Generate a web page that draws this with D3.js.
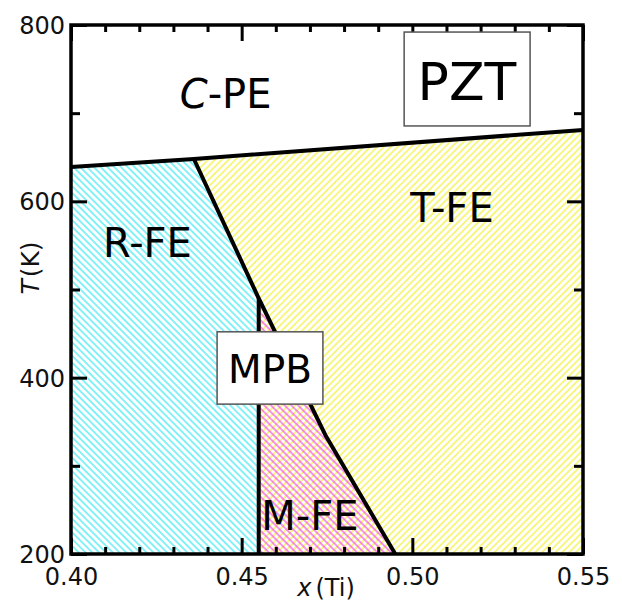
<!DOCTYPE html>
<html><head><meta charset="utf-8">
<script src="https://cdn.jsdelivr.net/npm/d3@7"></script>
<style>body{margin:0;background:#fff}svg{display:block}</style>
</head><body><svg id="c" width="622" height="603"></svg>
<script>
// ---- data ----
const xDomain = [0.40, 0.55];
const yDomain = [200, 800];
const xMajorTicks = [0.40, 0.45, 0.50, 0.55];
const xTickLabels = ["0.40", "0.45", "0.50", "0.55"];
const xMinorTicks = [0.41, 0.42, 0.43, 0.44, 0.46, 0.47, 0.48, 0.49, 0.51, 0.52, 0.53, 0.54];
const yMajorTicks = [200, 400, 600, 800];
const yTickLabels = ["200", "400", "600", "800"];
const yMinorTicks = [300, 500, 700];
// phase boundaries [x(Ti), T(K)]
const cubicBoundary = [[0.40, 639], [0.436, 648], [0.55, 681]];
const mpbBoundary = [[0.436, 648], [0.455, 490], [0.4745, 335], [0.495, 200]];
const monoclinicEdge = [[0.455, 490], [0.455, 200]];
// phase regions
const rRegion = [[0.40, 200], [0.40, 639], [0.436, 648], [0.455, 490], [0.455, 200]];
const tRegion = [[0.455, 490], [0.436, 648], [0.55, 681], [0.55, 200], [0.455, 200]];
const mRegion = [[0.455, 490], [0.4745, 335], [0.495, 200], [0.455, 200]];
// labels [x, T, text]
const phaseLabels = [
  {x: 0.4453, T: 706, parts: [["C", true], ["-PE", false]]},
  {x: 0.4224, T: 537, parts: [["R-FE", false]]},
  {x: 0.5116, T: 577, parts: [["T-FE", false]]},
  {x: 0.4700, T: 227, parts: [["M-FE", false]]}
];
const boxLabels = [
  {x0: 0.4976, x1: 0.5345, T0: 685.5, T1: 792, tx: 0.5160, tT: 715, text: "PZT", size: 52},
  {x0: 0.4428, x1: 0.4738, T0: 370, T1: 452, tx: 0.4583, tT: 394, text: "MPB", size: 39}
];

// ---- chart ----
const svg = d3.select("#c");
const x = d3.scaleLinear().domain(xDomain).range([71, 583]);
const y = d3.scaleLinear().domain(yDomain).range([554, 25]);
const FONT = "DejaVu Sans, sans-serif";

const defs = svg.append("defs");
function hatch(id, color, angle) {
  const p = defs.append("pattern").attr("id", id)
    .attr("patternUnits", "userSpaceOnUse").attr("width", 4.8).attr("height", 10)
    .attr("patternTransform", `rotate(${angle})`);
  p.append("line").attr("x1", 1).attr("x2", 1).attr("y1", -1).attr("y2", 11)
    .attr("stroke", color).attr("stroke-width", 1.1);
}
hatch("hCyan", "#22e6f2", -45);
hatch("hYellow", "#f2ee1c", 45);
hatch("hMagenta", "#f23cf2", -45);

const line = d3.line().x(d => x(d[0])).y(d => y(d[1]));

svg.append("path").attr("d", line(rRegion) + "Z").attr("fill", "url(#hCyan)");
svg.append("path").attr("d", line(tRegion) + "Z").attr("fill", "url(#hYellow)");
svg.append("path").attr("d", line(mRegion) + "Z").attr("fill", "url(#hMagenta)");

[cubicBoundary, mpbBoundary, monoclinicEdge].forEach(b => {
  svg.append("path").attr("d", line(b)).attr("fill", "none")
    .attr("stroke", "#000").attr("stroke-width", 4).attr("stroke-linejoin", "round");
});

// axes (ticks inward on all four sides)
function styleAxis(g) {
  g.select(".domain").remove();
  g.selectAll(".tick line").attr("stroke", "#000").attr("stroke-width", 3);
  g.selectAll("text").attr("font-family", FONT).attr("font-size", 24).attr("fill", "#111");
}
svg.append("g").attr("transform", "translate(0,554)")
  .call(d3.axisBottom(x).tickValues(xMinorTicks).tickSize(-7).tickFormat("")).call(styleAxis);
svg.append("g").attr("transform", "translate(0,25)")
  .call(d3.axisTop(x).tickValues(xMinorTicks).tickSize(-7).tickFormat("")).call(styleAxis);
svg.append("g").attr("transform", "translate(0,25)")
  .call(d3.axisTop(x).tickValues(xMajorTicks).tickSize(-16).tickFormat("")).call(styleAxis);
const xb = svg.append("g").attr("transform", "translate(0,554)")
  .call(d3.axisBottom(x).tickValues(xMajorTicks).tickSize(-16)
    .tickFormat((d, i) => xTickLabels[i]).tickPadding(12)).call(styleAxis);
xb.selectAll("text").attr("y", 31).attr("dy", null);

svg.append("g").attr("transform", "translate(71,0)")
  .call(d3.axisLeft(y).tickValues(yMinorTicks).tickSize(-9).tickFormat("")).call(styleAxis);
svg.append("g").attr("transform", "translate(583,0)")
  .call(d3.axisRight(y).tickValues(yMinorTicks).tickSize(-9).tickFormat("")).call(styleAxis);
svg.append("g").attr("transform", "translate(583,0)")
  .call(d3.axisRight(y).tickValues(yMajorTicks).tickSize(-16).tickFormat("")).call(styleAxis);
const yl = svg.append("g").attr("transform", "translate(71,0)")
  .call(d3.axisLeft(y).tickValues(yMajorTicks).tickSize(-16)
    .tickFormat((d, i) => yTickLabels[i]).tickPadding(6)).call(styleAxis);
yl.selectAll("text").attr("x", -6).attr("dy", "0.36em");

// frame
svg.append("rect").attr("x", x(xDomain[0])).attr("y", y(yDomain[1]))
  .attr("width", x(xDomain[1]) - x(xDomain[0])).attr("height", y(yDomain[0]) - y(yDomain[1]))
  .attr("fill", "none").attr("stroke", "#000").attr("stroke-width", 3.5);

// boxes
boxLabels.forEach(b => {
  svg.append("rect").attr("x", x(b.x0)).attr("y", y(b.T1))
    .attr("width", x(b.x1) - x(b.x0)).attr("height", y(b.T0) - y(b.T1))
    .attr("fill", "#fff").attr("stroke", "#555").attr("stroke-width", 1.5);
  svg.append("text").attr("x", x(b.tx)).attr("y", y(b.tT)).attr("text-anchor", "middle")
    .attr("font-family", FONT).attr("font-size", b.size).attr("fill", "#000").text(b.text);
});

// phase labels
phaseLabels.forEach(l => {
  const t = svg.append("text").attr("x", x(l.x)).attr("y", y(l.T)).attr("text-anchor", "middle")
    .attr("font-family", FONT).attr("font-size", 40).attr("fill", "#000");
  l.parts.forEach(p => t.append("tspan").attr("font-style", p[1] ? "italic" : "normal").text(p[0]));
});

// axis titles
const xt = svg.append("text").attr("x", 326).attr("y", 596).attr("text-anchor", "middle")
  .attr("font-family", FONT).attr("font-size", 24).attr("fill", "#111");
xt.append("tspan").attr("font-style", "italic").text("x");
xt.append("tspan").attr("dx", 4).text("(Ti)");

const yt = svg.append("text").attr("transform", "translate(39,268) rotate(-90)")
  .attr("text-anchor", "middle").attr("font-family", FONT).attr("font-size", 25).attr("fill", "#111");
yt.append("tspan").attr("font-style", "italic").text("T");
yt.append("tspan").attr("dx", 2).text("(K)");
</script></body></html>
